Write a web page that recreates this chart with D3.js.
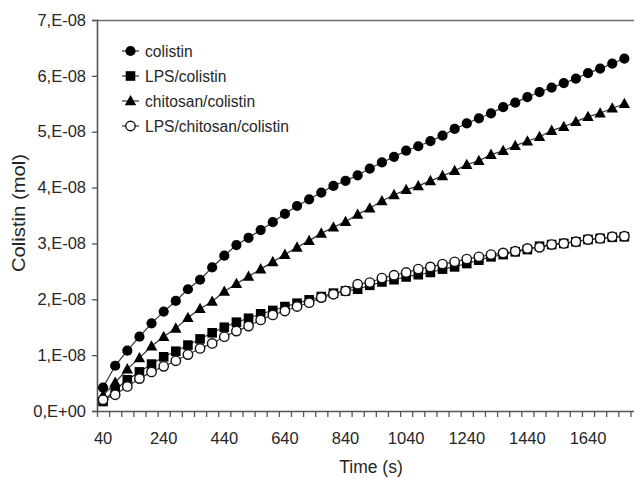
<!DOCTYPE html>
<html>
<head>
<meta charset="utf-8">
<script src="https://cdn.jsdelivr.net/npm/d3@7/dist/d3.min.js"></script>
<style>
  html, body { margin: 0; padding: 0; background: #fff; }
  svg { display: block; }
  text { font-family: "Liberation Sans", Arial, sans-serif; fill: #262626; }
</style>
</head>
<body>
<svg id="chart" width="634" height="479"></svg>
<script>
// ---- data (values in units of 1E-08 mol) ----
const times = [40, 80, 120, 160, 200, 240, 280, 320, 360, 400, 440, 480, 520, 560, 600, 640, 680, 720,
  760, 800, 840, 880, 920, 960, 1000, 1040, 1080, 1120, 1160, 1200, 1240, 1280, 1320, 1360, 1400,
  1440, 1480, 1520, 1560, 1600, 1640, 1680, 1720, 1760];

const colistin = [0.42, 0.81, 1.08, 1.33, 1.57, 1.78, 1.97, 2.18, 2.35, 2.57, 2.78, 2.97, 3.10, 3.24, 3.38, 3.53, 3.67, 3.79,
  3.91, 4.03, 4.12, 4.22, 4.34, 4.45, 4.55, 4.66, 4.74, 4.83, 4.93, 5.05, 5.15, 5.24, 5.33, 5.44, 5.52,
  5.62, 5.71, 5.79, 5.87, 5.95, 6.05, 6.13, 6.22, 6.31];

const lpsColistin = [0.17, 0.38, 0.56, 0.70, 0.84, 0.97, 1.07, 1.18, 1.29, 1.40, 1.50, 1.59, 1.66, 1.74, 1.80, 1.87, 1.93, 1.99,
  2.05, 2.11, 2.15, 2.18, 2.25, 2.31, 2.35, 2.40, 2.44, 2.48, 2.54, 2.58, 2.64, 2.70, 2.76, 2.80, 2.85,
  2.89, 2.95, 2.98, 3.00, 3.03, 3.07, 3.09, 3.11, 3.12];

const chitosanColistin = [0.28, 0.51, 0.75, 0.95, 1.16, 1.33, 1.48, 1.67, 1.83, 1.96, 2.14, 2.28, 2.41, 2.54, 2.67, 2.80, 2.93, 3.05,
  3.18, 3.29, 3.39, 3.52, 3.63, 3.76, 3.87, 3.96, 4.03, 4.12, 4.21, 4.30, 4.41, 4.48, 4.59, 4.66, 4.75,
  4.83, 4.91, 5.02, 5.09, 5.18, 5.27, 5.33, 5.42, 5.50];

const lpsChitosanColistin = [0.20, 0.29, 0.44, 0.58, 0.70, 0.80, 0.90, 1.01, 1.12, 1.21, 1.33, 1.43, 1.52, 1.63, 1.72, 1.79, 1.87, 1.94,
  2.03, 2.09, 2.15, 2.27, 2.30, 2.38, 2.43, 2.48, 2.54, 2.58, 2.63, 2.67, 2.72, 2.76, 2.80, 2.83, 2.86,
  2.91, 2.93, 2.98, 3.00, 3.03, 3.07, 3.09, 3.12, 3.13];

const seriesNames = ["colistin", "LPS/colistin", "chitosan/colistin", "LPS/chitosan/colistin"];
const seriesMarkers = ["circle", "square", "triangle", "opencircle"];

const yTickValues = [0, 1, 2, 3, 4, 5, 6, 7];
const yTickLabels = ["0,E+00", "1,E-08", "2,E-08", "3,E-08", "4,E-08", "5,E-08", "6,E-08", "7,E-08"];
const xLabelValues = [40, 240, 440, 640, 840, 1040, 1240, 1440, 1640];
const xTickValues = [20, 60, 100, 140, 180, 220, 260, 300, 340, 380, 420, 460, 500, 540, 580, 620, 660, 700,
  740, 780, 820, 860, 900, 940, 980, 1020, 1060, 1100, 1140, 1180, 1220, 1260, 1300, 1340, 1380, 1420,
  1460, 1500, 1540, 1580, 1620, 1660, 1700, 1740, 1780];

const xTitle = "Time (s)";
const yTitle = "Colistin (mol)";

// ---- layout ----
const svg = d3.select("#chart");
const plotLeft = 97, plotTop = 20, plotBottom = 411, plotRight = 636.5;

const x = d3.scaleLinear().domain([20, 1800]).range([plotLeft, plotRight]);
const y = d3.scaleLinear().domain([0, 7]).range([plotBottom, plotTop]);

const seriesData = [colistin, lpsColistin, chitosanColistin, lpsChitosanColistin];

// top border
svg.append("line")
  .attr("x1", plotLeft).attr("x2", 634).attr("y1", plotTop + 0.5).attr("y2", plotTop + 0.5)
  .attr("stroke", "#6e6e6e").attr("stroke-width", 1.6);

// y axis
const yAxis = d3.axisLeft(y).tickValues(yTickValues)
  .tickFormat((d, i) => yTickLabels[i]).tickSize(5).tickPadding(6);
const gy = svg.append("g").attr("transform", `translate(${plotLeft},0)`).call(yAxis);
gy.select(".domain").attr("stroke", "#555").attr("stroke-width", 1.6);
gy.selectAll(".tick line").attr("stroke", "#555").attr("stroke-width", 1.3);
gy.selectAll(".tick text").style("font-size", "16.5px").attr("fill", "#262626")
  .style("font-family", '"Liberation Sans", Arial, sans-serif');

// x axis (ticks at category boundaries, labels at category centres)
const xAxis = d3.axisBottom(x).tickValues(xTickValues).tickFormat("").tickSize(6).tickSizeOuter(0);
const gx = svg.append("g").attr("transform", `translate(0,${plotBottom})`).call(xAxis);
gx.select(".domain").attr("stroke", "#555").attr("stroke-width", 1.6);
gx.selectAll(".tick line").attr("stroke", "#555").attr("stroke-width", 1.3);

svg.append("g").selectAll("text").data(xLabelValues).join("text")
  .attr("x", d => x(d)).attr("y", 444)
  .attr("text-anchor", "middle").style("font-size", "16.5px")
  .text(d => d);

// axis titles
svg.append("text").attr("x", 371).attr("y", 473)
  .attr("text-anchor", "middle").style("font-size", "17.5px").text(xTitle);

svg.append("text")
  .attr("transform", "translate(25,213) rotate(-90)")
  .attr("text-anchor", "middle").style("font-size", "18px")
  .attr("textLength", 118).attr("lengthAdjust", "spacingAndGlyphs")
  .text(yTitle);

// ---- series ----
const line = d3.line().x((d, i) => x(times[i])).y(d => y(d));

function drawMarker(g, type, cx, cy) {
  if (type === "circle") {
    g.append("circle").attr("cx", cx).attr("cy", cy).attr("r", 5.1).attr("fill", "#000");
  } else if (type === "opencircle") {
    g.append("circle").attr("cx", cx).attr("cy", cy).attr("r", 4.7)
      .attr("fill", "#fff").attr("stroke", "#111").attr("stroke-width", 1.4);
  } else if (type === "square") {
    g.append("rect").attr("x", cx - 4.8).attr("y", cy - 4.8).attr("width", 9.6).attr("height", 9.6).attr("fill", "#000");
  } else if (type === "triangle") {
    g.append("path").attr("d", `M${cx},${cy - 6}L${cx + 5.7},${cy + 4.3}L${cx - 5.7},${cy + 4.3}Z`).attr("fill", "#000");
  }
}

seriesData.forEach((vals, si) => {
  const g = svg.append("g");
  g.append("path").datum(vals).attr("d", line)
    .attr("fill", "none").attr("stroke", "#333").attr("stroke-width", 1.2);
  const mg = g.append("g");
  vals.forEach((v, i) => drawMarker(mg, seriesMarkers[si], x(times[i]), y(v)));
});

// ---- legend ----
const legendRows = [51, 76, 101, 126];
seriesNames.forEach((name, i) => {
  const g = svg.append("g");
  const cy = legendRows[i];
  g.append("line").attr("x1", 122).attr("x2", 139).attr("y1", cy).attr("y2", cy)
    .attr("stroke", "#333").attr("stroke-width", 1.2);
  drawMarker(g, seriesMarkers[i], 130.5, cy);
  g.append("text").attr("x", 145).attr("y", cy + 5.7).style("font-size", "15.6px").text(name);
});
</script>
</body>
</html>
